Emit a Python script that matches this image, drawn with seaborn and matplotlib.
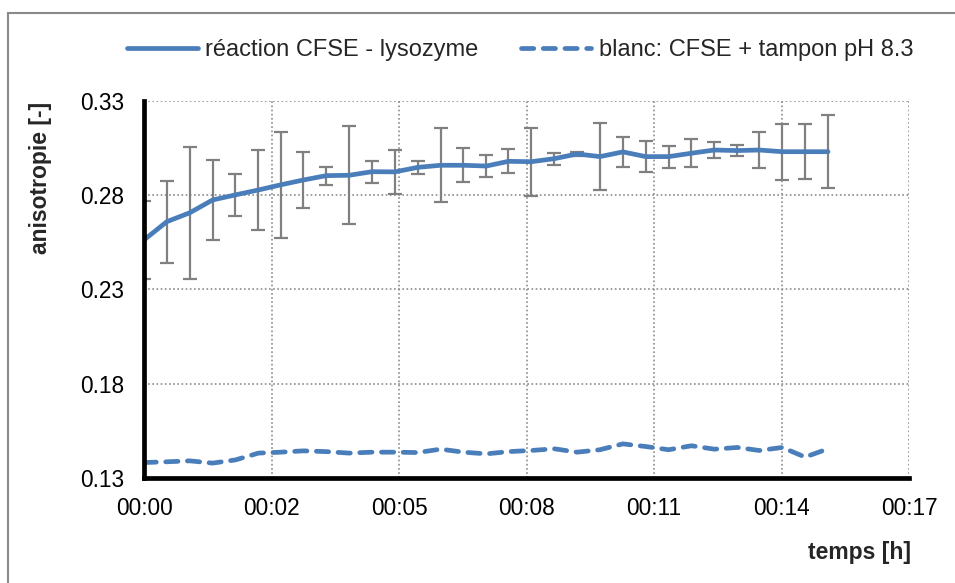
import matplotlib
matplotlib.use("Agg")
import matplotlib.pyplot as plt
from matplotlib.patches import Rectangle
import numpy as np
import pandas as pd
import seaborn as sns

# Measurement times (seconds)
temps_s = [0, 31, 62, 93, 124, 155, 185, 216, 247, 278, 309, 340, 371, 402, 433,
           464, 494, 525, 556, 587, 618, 649, 680, 711, 742, 773, 804, 834, 865,
           896, 927]

# Reaction CFSE - lysozyme: mean anisotropy and standard deviation
reaction = [0.2563, 0.2660, 0.2707, 0.2775, 0.2802, 0.2828, 0.2855, 0.2881,
            0.2904, 0.2906, 0.2925, 0.2924, 0.2948, 0.2959, 0.2959, 0.2955,
            0.2980, 0.2978, 0.2994, 0.3019, 0.3005, 0.3030, 0.3005, 0.3005,
            0.3023, 0.3040, 0.3037, 0.3040, 0.3031, 0.3031, 0.3031]
reaction_sd = [0.0205, 0.0218, 0.0350, 0.0213, 0.0110, 0.0214, 0.0280, 0.0150,
               0.0048, 0.0260, 0.0058, 0.0116, 0.0035, 0.0197, 0.0090, 0.0060,
               0.0064, 0.0180, 0.0032, 0.0010, 0.0179, 0.0080, 0.0082, 0.0058,
               0.0073, 0.0040, 0.0027, 0.0095, 0.0149, 0.0145, 0.0193]

# Blank: CFSE + buffer pH 8.3
blanc = [0.1382, 0.1386, 0.1391, 0.1379, 0.1396, 0.1432, 0.1437, 0.1444,
         0.1440, 0.1432, 0.1437, 0.1437, 0.1435, 0.1453, 0.1437, 0.1428,
         0.1440, 0.1446, 0.1455, 0.1437, 0.1450, 0.1481, 0.1467, 0.1450,
         0.1471, 0.1453, 0.1462, 0.1446, 0.1462, 0.1411, 0.1455]

series_names = ["réaction CFSE - lysozyme", "blanc: CFSE + tampon pH 8.3"]

x_tick_labels = ["00:00", "00:02", "00:05", "00:08", "00:11", "00:14", "00:17"]
y_ticks = [0.13, 0.18, 0.23, 0.28, 0.33]
x_step_min = 2.88  # major unit of the time axis, in minutes

sns.set_style("white")
plt.rcParams["font.family"] = ["Liberation Sans", "DejaVu Sans"]

blue = "#4a7ebb"
grey = "#808080"

t_min = [s / 60.0 for s in temps_s]
df = pd.DataFrame({
    "temps": t_min + t_min,
    "anisotropie": reaction + blanc,
    "serie": [series_names[0]] * len(t_min) + [series_names[1]] * len(t_min),
})

fig = plt.figure(figsize=(9.55, 5.83), dpi=100)
ax = fig.add_axes([144 / 955, 1 - 478 / 583, (909 - 144) / 955, (478 - 101) / 583])

sns.lineplot(data=df, x="temps", y="anisotropie", hue="serie", style="serie",
             hue_order=series_names, style_order=series_names,
             palette=[blue, blue],
             dashes={series_names[0]: "", series_names[1]: (2.6, 2.0)},
             linewidth=3.4, sort=False, legend=False, ax=ax, zorder=4)
line_main, line_blank = ax.lines[0], ax.lines[1]
line_main.set_solid_capstyle("round")
line_blank.set_dash_capstyle("round")

ax.errorbar(t_min, reaction, yerr=reaction_sd, fmt="none", ecolor=grey,
            elinewidth=1.6, capsize=5, capthick=1.6, zorder=3)

x_ticks = [i * x_step_min for i in range(len(x_tick_labels))]
ax.set_xlim(0, x_ticks[-1])
ax.set_ylim(y_ticks[0], y_ticks[-1])
ax.set_xticks(x_ticks)
ax.set_xticklabels(x_tick_labels)
ax.set_yticks(y_ticks)
ax.set_yticklabels([f"{v:.2f}" for v in y_ticks])
ax.set_xlabel("")
ax.set_ylabel("")

ax.grid(True, which="major", color="#8c8c8c", linestyle=(0, (1, 1.5)), linewidth=1.2)
ax.set_axisbelow(True)
for side in ("top", "right"):
    ax.spines[side].set_visible(False)
for side in ("left", "bottom"):
    ax.spines[side].set_linewidth(3.4)
    ax.spines[side].set_color("black")
    ax.spines[side].set_zorder(6)
ax.tick_params(axis="both", direction="out", length=5, width=2.4, color="black",
               labelsize=16.3, labelcolor="black")
ax.tick_params(axis="y", pad=9)
ax.tick_params(axis="x", pad=9)

fig.text(40 / 955, 1 - 178 / 583, "anisotropie [-]", rotation=90, ha="center",
         va="center", fontsize=16.5, fontweight="bold")
fig.text(860 / 955, 1 - 552 / 583, "temps [h]", ha="center", va="center",
         fontsize=16.5, fontweight="bold")

fig.legend([line_main, line_blank], series_names, loc="center",
           bbox_to_anchor=(520 / 955, 1 - 50 / 583), ncol=2, frameon=False,
           fontsize=17, handlelength=3.0, handletextpad=0.3, columnspacing=1.8)

# chart area border
fig.patches.append(Rectangle((8 / 955, -0.1), 1.2, 1.1 - 13 / 583 + 0.0,
                             transform=fig.transFigure, fill=False,
                             edgecolor="#8a8a8a", linewidth=1.5))

fig.savefig("out.png", dpi=100)
